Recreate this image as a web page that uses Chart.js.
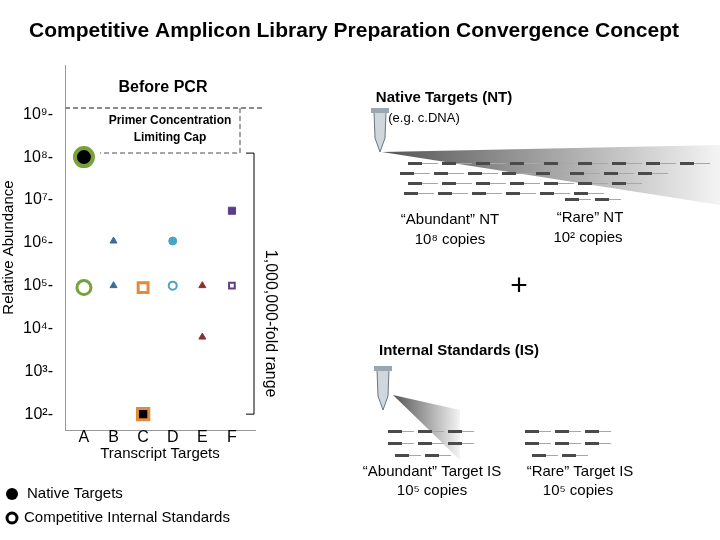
<!DOCTYPE html>
<html><head><meta charset="utf-8">
<script src="https://cdn.jsdelivr.net/npm/chart.js@4"></script>
<style>body{margin:0;background:#fff}#wrap{width:720px;height:540px}</style>
</head><body><div id="wrap"><canvas id="c"></canvas></div>
<script>
// Data
const targets = ['A', 'B', 'C', 'D', 'E', 'F'];
const nativeValues = [1e8, 1.1e6, 1e2, 1.1e6, 6.3e3, 5.6e6];
const competitiveValues = [0.9e5, 1e5, 0.9e5, 1e5, 1e5, 1e5];
const yTicks = [1e2, 1e3, 1e4, 1e5, 1e6, 1e7, 1e8, 1e9];
const sup = {2:'²',3:'³',4:'⁴',5:'⁵',6:'⁶',7:'⁷',8:'⁸',9:'⁹'};

const nativeStyle = {
  style: ['circle', 'triangle', 'rect', 'circle', 'triangle', 'rect'],
  fill: ['#000', '#3a6b9c', '#000', '#4aa3c8', '#8b3030', '#5b3d8c'],
  border: ['#7aa03c', '#3a6b9c', '#e08a3c', '#4aa3c8', '#8b3030', '#5b3d8c'],
  radius: [9, 4, 8, 4, 4, 5],
  width: [4, 1, 3, 1, 1, 1]
};
const compStyle = {
  style: ['circle', 'triangle', 'rect', 'circle', 'triangle', 'rect'],
  fill: ['#fff', '#3a6b9c', '#fff', '#fff', '#8b3030', '#fff'],
  border: ['#7aa03c', '#3a6b9c', '#e08a3c', '#4aa3c8', '#8b3030', '#5b3d8c'],
  radius: [7, 4, 7, 4, 4, 4],
  width: [3, 1, 3, 2, 1, 2]
};

const FONT = "'Liberation Sans', Arial, sans-serif";

function drawTube(ctx, x, y) {
  ctx.save();
  ctx.translate(x, y);
  ctx.fillStyle = '#cfd6dc'; ctx.strokeStyle = '#6a7680'; ctx.lineWidth = 1;
  ctx.beginPath();
  ctx.moveTo(-6, 0); ctx.lineTo(6, 0); ctx.lineTo(5, 26); ctx.lineTo(0, 40); ctx.lineTo(-5, 26); ctx.closePath();
  ctx.fill(); ctx.stroke();
  ctx.fillStyle = '#9aa6b0';
  ctx.fillRect(-9, -4, 18, 5);
  ctx.restore();
}

function drawWedge(ctx, x0, y0, x1, yTop, yBot) {
  const g = ctx.createLinearGradient(x0, 0, x1, 0);
  g.addColorStop(0, '#555'); g.addColorStop(1, '#f4f4f4');
  ctx.fillStyle = g;
  ctx.beginPath(); ctx.moveTo(x0, y0); ctx.lineTo(x1, yTop); ctx.lineTo(x1, yBot); ctx.closePath(); ctx.fill();
}

function dashRow(ctx, x, y, n, gap) {
  for (let i = 0; i < n; i++) {
    ctx.fillStyle = '#4a4a4a';
    ctx.fillRect(x + i * gap, y, 14, 3);
    ctx.fillStyle = '#9ab';
    ctx.fillRect(x + i * gap + 14, y + 1, gap - 18, 1);
  }
}

const decor = {
  id: 'decor',
  afterDraw(chart) {
    const ctx = chart.ctx;
    const y = chart.scales.y, x = chart.scales.x;
    ctx.save();
    ctx.fillStyle = '#000'; ctx.textAlign = 'center'; ctx.textBaseline = 'middle';
    ctx.font = 'bold 21px ' + FONT;
    ctx.fillText('Competitive Amplicon Library Preparation Convergence Concept', 354, 31);

    // cap line and box
    const y9 = 108, y8 = y.getPixelForValue(1e8) - 4;
    ctx.strokeStyle = '#888'; ctx.lineWidth = 2; ctx.setLineDash([5, 3]);
    ctx.beginPath(); ctx.moveTo(x.left, y9); ctx.lineTo(265, y9); ctx.stroke();
    ctx.lineWidth = 1.5;
    ctx.beginPath(); ctx.moveTo(240, y9); ctx.lineTo(240, y8); ctx.lineTo(100, y8); ctx.stroke();
    ctx.setLineDash([]);
    ctx.font = 'bold 16px ' + FONT;
    ctx.fillText('Before PCR', 163, 88);
    ctx.font = 'bold 12px ' + FONT;
    ctx.fillText('Primer Concentration', 170, 121);
    ctx.fillText('Limiting Cap', 170, 138);

    // bracket
    const yb = y.getPixelForValue(1e2);
    ctx.strokeStyle = '#000'; ctx.lineWidth = 1;
    ctx.beginPath(); ctx.moveTo(246, y8); ctx.lineTo(254, y8); ctx.lineTo(254, yb); ctx.lineTo(246, yb); ctx.stroke();
    ctx.save(); ctx.translate(270, (y8 + yb) / 2 + 40); ctx.rotate(Math.PI / 2);
    ctx.font = '16px ' + FONT; ctx.fillText('1,000,000-fold range', 0, 0); ctx.restore();

    ctx.font = '15px ' + FONT;
    ctx.fillText('Transcript Targets', 160, 454);

    // legend
    ctx.textAlign = 'left';
    ctx.beginPath(); ctx.arc(12, 494, 6, 0, 2 * Math.PI); ctx.fillStyle = '#000'; ctx.fill();
    ctx.beginPath(); ctx.arc(12, 518, 5, 0, 2 * Math.PI); ctx.lineWidth = 3; ctx.strokeStyle = '#000'; ctx.stroke();
    ctx.fillStyle = '#000'; ctx.font = '15px ' + FONT;
    ctx.fillText('Native Targets', 27, 494);
    ctx.fillText('Competitive Internal Standards', 24, 518);

    // right side diagram: native targets
    ctx.textAlign = 'center';
    ctx.font = 'bold 15px ' + FONT; ctx.fillText('Native Targets (NT)', 444, 98);
    ctx.font = '13px ' + FONT; ctx.fillText('(e.g. c.DNA)', 424, 118);
    drawWedge(ctx, 382, 152, 720, 145, 205);
    drawTube(ctx, 380, 112);
    ctx.lineWidth = 1;
    dashRow(ctx, 408, 162, 9, 34); dashRow(ctx, 400, 172, 8, 34);
    dashRow(ctx, 408, 182, 7, 34); dashRow(ctx, 404, 192, 6, 34);
    dashRow(ctx, 565, 198, 2, 30);
    ctx.fillStyle = '#000'; ctx.font = '15px ' + FONT;
    ctx.fillText('“Abundant” NT', 450, 220); ctx.fillText('10⁸ copies', 450, 240);
    ctx.fillText('“Rare” NT', 590, 218); ctx.fillText('10² copies', 588, 238);
    ctx.font = '30px ' + FONT; ctx.fillText('+', 519, 287);

    // internal standards
    ctx.font = 'bold 15px ' + FONT; ctx.fillText('Internal Standards (IS)', 459, 351);
    drawWedge(ctx, 393, 395, 460, 410, 460);
    drawTube(ctx, 383, 370);
    dashRow(ctx, 388, 430, 3, 30); dashRow(ctx, 388, 442, 3, 30); dashRow(ctx, 395, 454, 2, 30);
    dashRow(ctx, 525, 430, 3, 30); dashRow(ctx, 525, 442, 3, 30); dashRow(ctx, 532, 454, 2, 30);
    ctx.fillStyle = '#000'; ctx.font = '15px ' + FONT;
    ctx.fillText('“Abundant” Target IS', 432, 472); ctx.fillText('10⁵ copies', 432, 491);
    ctx.fillText('“Rare” Target IS', 580, 472); ctx.fillText('10⁵ copies', 578, 491);
    ctx.restore();
  }
};

function pts(vals) { return vals.map((v, i) => ({ x: i + 1, y: v })); }

new Chart(document.getElementById('c'), {
  type: 'scatter',
  data: {
    datasets: [
      { label: 'Native Targets', data: pts(nativeValues), pointStyle: nativeStyle.style,
        backgroundColor: nativeStyle.fill, borderColor: nativeStyle.border,
        pointRadius: nativeStyle.radius, borderWidth: nativeStyle.width },
      { label: 'Competitive Internal Standards', data: pts(competitiveValues), pointStyle: compStyle.style,
        backgroundColor: compStyle.fill, borderColor: compStyle.border,
        pointRadius: compStyle.radius, borderWidth: compStyle.width }
    ]
  },
  options: {
    responsive: true, maintainAspectRatio: false, animation: false,
    layout: { padding: { top: 65, right: 465, left: 0, bottom: 0 } },
    plugins: { legend: { display: false }, tooltip: { enabled: false } },
    scales: {
      x: {
        type: 'linear', min: 0.36, max: 6.78,
        grid: { display: false, drawTicks: false },
        border: { color: '#999' },
        afterBuildTicks: s => { s.ticks = targets.map((t, i) => ({ value: i + 1 })); },
        ticks: { color: '#000', font: { size: 16, family: FONT }, padding: -2,
          callback: v => targets[v - 1] || '' },
        afterFit: s => { s.height = 110; }
      },
      y: {
        type: 'logarithmic', min: Math.pow(10, 1.63), max: Math.pow(10, 10.15),
        grid: { display: false },
        border: { color: '#999' },
        afterBuildTicks: s => { s.ticks = yTicks.map(v => ({ value: v })); },
        ticks: { color: '#000', font: { size: 16, family: FONT }, padding: 4,
          callback: v => '10' + sup[Math.round(Math.log10(v))] + '-' },
        title: { display: true, text: 'Relative Abundance', color: '#000', font: { size: 15, family: FONT }, padding: 0 },
        afterFit: s => { s.width = 65; }
      }
    }
  },
  plugins: [decor]
});
</script></body></html>
